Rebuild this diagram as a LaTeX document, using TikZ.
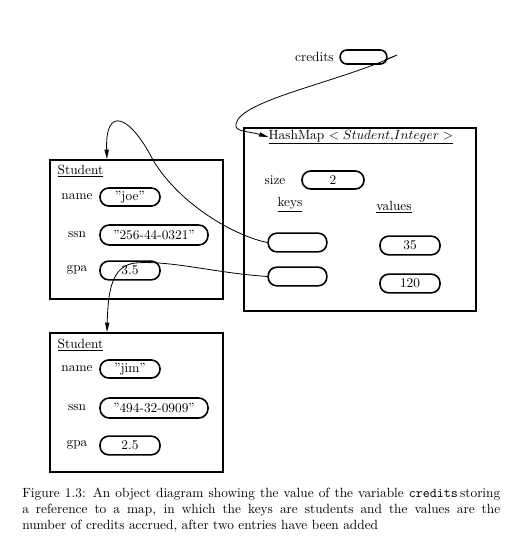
\documentclass[tikz,border=0pt]{standalone}
\usetikzlibrary{arrows.meta,calc}
\begin{document}
\begin{tikzpicture}[x=0.75pt,y=-0.75pt,
  oval/.style={draw,line width=1.2pt,rounded corners=6.5pt,minimum height=14pt,minimum width=45pt,inner sep=0pt,font=\fontsize{10}{12}\selectfont},
  objbox/.style={draw,line width=1.5pt,inner sep=0pt},
  lbl/.style={inner sep=0pt,font=\fontsize{10}{12}\selectfont},
  conn/.style={line width=0.6pt,-{Triangle[length=7pt,width=3.2pt]}}]
\useasboundingbox (0,0) rectangle (526,540);
\clip (0,0) rectangle (526,540);

% credits variable
\node[lbl,anchor=east] (credlbl) at (334,57) {credits};
\node[oval,minimum width=35pt,minimum height=10.5pt,rounded corners=5pt] (cr) at (363.5,57) {};

% HashMap object
\node[objbox,minimum width=174pt,minimum height=137.25pt] (hm) at (360,219.5) {};
\node[lbl] (hmtitle) at (361,137) {\underline{HashMap $<Student{,}Integer>$}};
\node[lbl] (sizelbl) at (275,180) {size};
\node[oval,minimum width=46.5pt,minimum height=13.5pt] (size) at (333,180) {2};
\node[lbl] (keys) at (290,205) {\underline{keys}};
\node[lbl] (values) at (394,207) {\underline{values}};
\node[oval,minimum width=44pt] (k1) at (297.5,242.5) {};
\node[oval,minimum width=44pt] (k2) at (297.5,276.5) {};
\node[oval] (v1) at (410,245.5) {35};
\node[oval] (v2) at (410,283.5) {120};

% Student 1
\node[objbox,minimum width=129.75pt,minimum height=104.25pt] (s1) at (136.5,229.5) {};
\node[lbl] (s1t) at (80.5,171) {\underline{Student}};
\node[lbl] (s1n) at (77,197) {name};
\node[oval,minimum height=13.5pt] (s1nv) at (130,197) {''joe''};
\node[lbl] (s1s) at (77,235) {ssn};
\node[oval,minimum width=81pt,minimum height=15pt,rounded corners=7pt] (s1sv) at (154,235) {''256-44-0321''};
\node[lbl] (s1g) at (77,270) {gpa};
\node[oval] (s1gv) at (130,270.5) {3.5};

% Student 2
\node[objbox,minimum width=129.75pt,minimum height=104.25pt] (s2) at (136.5,402.5) {};
\node[lbl] (s2t) at (80.5,345) {\underline{Student}};
\node[lbl] (s2n) at (77,369) {name};
\node[oval,minimum height=13.5pt] (s2nv) at (130,369) {''jim''};
\node[lbl] (s2s) at (77,408) {ssn};
\node[oval,minimum width=81pt,minimum height=15pt,rounded corners=7pt] (s2sv) at (154,408) {''494-32-0909''};
\node[lbl] (s2g) at (77,445) {gpa};
\node[oval] (s2gv) at (130,445.5) {2.5};

% connectors
\coordinate (ct) at (397,55);
\coordinate (s1in) at ($(s1.north west)+(58,0)$);
\coordinate (s2in) at ($(s2.north west)+(58,0)$);
\draw[conn] ($(cr.east)+(-3,3)$) -- (ct) .. controls (340,82) and (240,100) .. (236,124)
  .. controls (234,132) and (248,131) .. (hmtitle.west);
\draw[conn] (k1.west) .. controls (235,236) and (180,205) .. (153,160)
  .. controls (130,115) and (105,105) .. (s1in);
\draw[conn] (k2.west) .. controls (215,273) and (170,260) .. (135,263)
  .. controls (112,266) and (108,290) .. (s2in);

% caption
\node[anchor=north west,inner sep=0pt,text width=358.5pt,align=justify,font=\fontsize{10}{12}\selectfont] (cap) at (22,488)
{Figure 1.3: An object diagram showing the value of the variable \texttt{credits}\,storing\linebreak
a reference to a map, in which the keys are students and the values are the\linebreak
number of credits accrued, after two entries have been added};
\end{tikzpicture}
\end{document}
